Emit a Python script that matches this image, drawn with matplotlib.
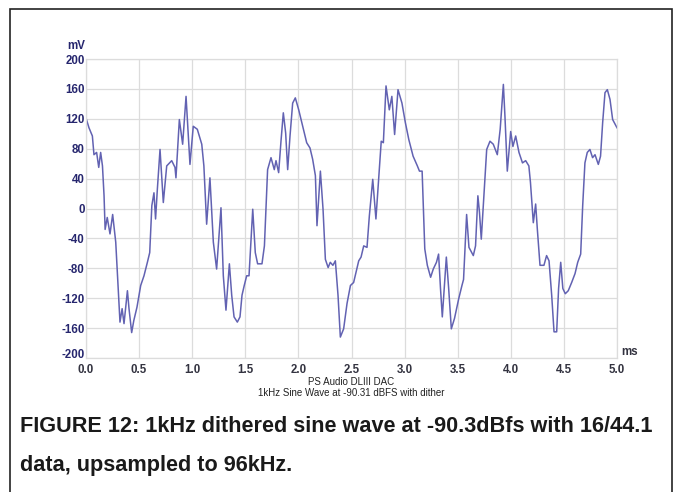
import matplotlib
matplotlib.use("Agg")
import matplotlib.pyplot as plt
import matplotlib.transforms as mtransforms
from matplotlib.patches import Rectangle

time_ms = [0.000, 0.028, 0.060, 0.075, 0.100, 0.120, 0.138, 0.155, 0.170, 0.180,
           0.200, 0.226, 0.251, 0.280, 0.300, 0.320, 0.340, 0.358, 0.390, 0.405,
           0.430, 0.450, 0.480, 0.515, 0.546, 0.578, 0.600, 0.620, 0.640, 0.655,
           0.672, 0.697, 0.728, 0.760, 0.807, 0.838, 0.847, 0.879, 0.910, 0.942,
           0.979, 1.010, 1.048, 1.090, 1.110, 1.136, 1.167, 1.199, 1.230, 1.271,
           1.293, 1.318, 1.350, 1.372, 1.394, 1.425, 1.450, 1.469, 1.490, 1.513,
           1.535, 1.554, 1.570, 1.594, 1.616, 1.657, 1.680, 1.710, 1.742, 1.773,
           1.789, 1.814, 1.836, 1.858, 1.880, 1.899, 1.921, 1.946, 1.971, 2.003,
           2.040, 2.078, 2.109, 2.134, 2.160, 2.175, 2.207, 2.232, 2.254, 2.280,
           2.300, 2.325, 2.348, 2.373, 2.395, 2.426, 2.458, 2.490, 2.520, 2.568,
           2.590, 2.615, 2.646, 2.668, 2.700, 2.730, 2.756, 2.780, 2.800, 2.825,
           2.856, 2.880, 2.906, 2.938, 2.975, 3.007, 3.040, 3.080, 3.120, 3.140,
           3.165, 3.190, 3.214, 3.245, 3.270, 3.300, 3.320, 3.338, 3.355, 3.393,
           3.415, 3.440, 3.470, 3.509, 3.540, 3.555, 3.584, 3.606, 3.647, 3.668,
           3.690, 3.705, 3.722, 3.747, 3.773, 3.804, 3.835, 3.873, 3.900, 3.930,
           3.945, 3.967, 3.999, 4.020, 4.046, 4.077, 4.110, 4.140, 4.170, 4.185,
           4.212, 4.234, 4.250, 4.275, 4.312, 4.337, 4.360, 4.385, 4.407, 4.432,
           4.450, 4.470, 4.490, 4.513, 4.541, 4.573, 4.605, 4.630, 4.658, 4.677,
           4.698, 4.720, 4.745, 4.770, 4.793, 4.824, 4.845, 4.865, 4.887, 4.909,
           4.934, 4.959, 5.000]

level_mv = [121, 108, 97, 72, 75, 55, 75, 57, 17, -28,
            -12, -34, -8, -45, -99, -152, -134, -154, -110, -134,
            -166, -150, -132, -103, -90, -72, -59, 4, 21, -14,
            26, 79, 8, 57, 64, 55, 41, 119, 86, 150,
            59, 110, 106, 86, 57, -21, 41, -45, -81, 1,
            -90, -136, -74, -116, -145, -152, -145, -116, -103, -90,
            -90, -41, -1, -59, -74, -74, -50, 52, 68, 52,
            64, 48, 90, 128, 101, 52, 97, 141, 148, 132,
            110, 88, 81, 66, 44, -23, 50, -1, -68, -79,
            -72, -76, -70, -116, -172, -161, -127, -103, -99, -70,
            -65, -50, -52, -10, 39, -14, 39, 90, 88, 164,
            132, 150, 99, 159, 141, 115, 92, 70, 57, 50,
            50, -54, -76, -92, -81, -72, -61, -107, -145, -65,
            -107, -161, -147, -121, -103, -95, -8, -52, -63, -50,
            17, -5, -41, 17, 79, 90, 86, 72, 106, 166,
            123, 50, 103, 83, 97, 75, 61, 64, 57, 35,
            -19, 6, -28, -76, -76, -63, -70, -116, -165, -165,
            -107, -72, -107, -114, -110, -99, -87, -72, -61, 4,
            61, 75, 79, 68, 72, 59, 70, 115, 155, 159,
            146, 119, 108]

x_ticks = [0.0, 0.5, 1.0, 1.5, 2.0, 2.5, 3.0, 3.5, 4.0, 4.5, 5.0]
x_labels = ["0.0", "0.5", "1.0", "1.5", "2.0", "2.5", "3.0", "3.5", "4.0", "4.5", "5.0"]
y_ticks = [-200, -160, -120, -80, -40, 0, 40, 80, 120, 160, 200]
y_labels = ["-200", "-160", "-120", "-80", "-40", "0", "40", "80", "120", "160", "200"]

title1 = "PS Audio DLIII DAC"
title2 = "1kHz Sine Wave at -90.31 dBFS with dither"
caption1 = "FIGURE 12: 1kHz dithered sine wave at -90.3dBfs with 16/44.1"
caption2 = "data, upsampled to 96kHz."

W, H = 682, 492
fig = plt.figure(figsize=(W / 100, H / 100), dpi=100)
fig.patch.set_facecolor("white")

# outer frame
fig.patches.append(Rectangle((10 / W, -0.02), (672 - 10) / W, (H - 9) / H + 0.02,
                             transform=fig.transFigure, fill=False,
                             edgecolor="#222222", linewidth=1.2))

ax_l, ax_r, ax_t, ax_b = 86, 617, 59, 358
ax = fig.add_axes([ax_l / W, 1 - ax_b / H, (ax_r - ax_l) / W, (ax_b - ax_t) / H])
ax.plot(time_ms, level_mv, color="#6262b2", linewidth=1.1)
ax.set_xlim(0, 5)
ax.set_ylim(-200, 200)
ax.set_xticks(x_ticks)
ax.set_yticks(y_ticks)
navy = "#26266e"
tick_font = dict(family=["Liberation Sans", "DejaVu Sans"], weight="bold", size=8.3)
ax.set_xticklabels(x_labels, color="#333340", **tick_font)
ax.set_yticklabels(y_labels, color=navy, **tick_font)
ax.tick_params(axis="x", length=0, pad=4)
ax.tick_params(axis="y", length=0, pad=1)
ax.grid(True, color="#dcdcdc", linewidth=0.9)
for s in ax.spines.values():
    s.set_color("#dcdcdc")
    s.set_linewidth(0.9)
ax.set_axisbelow(True)

# lift the bottom y label slightly so it clears the first x label
bottom_lbl = ax.get_yticklabels()[0]
bottom_lbl.set_transform(bottom_lbl.get_transform() +
                         mtransforms.ScaledTranslation(0, 4 / 100, fig.dpi_scale_trans))

fig.text(67 / W, 1 - 46 / H, "mV", color=navy, ha="left", va="center", **tick_font)
fig.text(621 / W, 1 - 352 / H, "ms", color="#333340", ha="left", va="center", **tick_font)

sub_font = dict(family=["Liberation Sans", "DejaVu Sans"], size=7, color="#222222")
fig.text(351 / W, 1 - 382 / H, title1, ha="center", va="center", **sub_font)
fig.text(351 / W, 1 - 393 / H, title2, ha="center", va="center", **sub_font)

cap_font = dict(family=["Liberation Sans Narrow", "Liberation Sans", "DejaVu Sans"],
                weight="bold", size=15.6, color="#1a1a1a", ha="left", va="center")
fig.text(20 / W, 1 - 427 / H, caption1, **cap_font)
fig.text(20 / W, 1 - 465 / H, caption2, **cap_font)

fig.savefig("out.png", dpi=100)
